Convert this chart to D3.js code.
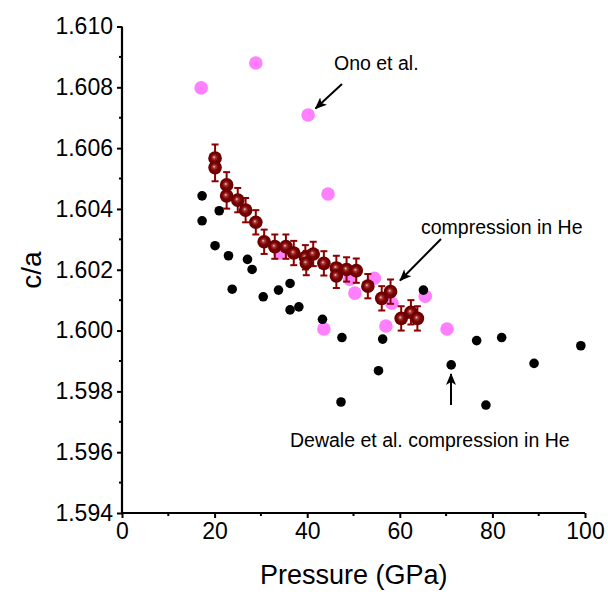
<!DOCTYPE html>
<html><head><meta charset="utf-8">
<script src="https://cdn.jsdelivr.net/npm/d3@7"></script>
<style>body{margin:0;background:#fff}svg{display:block}text{font-family:Arial,"Liberation Sans",sans-serif}</style>
</head><body><svg id="c" width="608" height="592"></svg>
<script>
// Ono et al. (pink)
const onoP = [17.1,28.9,40.2,44.5,34.1,49.2,54.5,50.3,58.3,65.5,57.0,43.6,70.2];
const onoCA = [1.60798,1.6088,1.60709,1.60449,1.60255,1.60169,1.60172,1.60123,1.6009,1.60113,1.60015,1.60005,1.60005];
// Dewaele et al. (black)
const dewP = [17.3,21.0,17.3,20.1,23.0,27.1,28.1,23.8,30.5,33.8,36.3,36.3,38.2,43.3,47.5,56.3,55.4,65.1,76.6,82.0,99.1,71.1,89.0,78.6,47.3];
const dewCA = [1.60443,1.60394,1.60361,1.60279,1.60246,1.60234,1.60201,1.60136,1.60111,1.60133,1.60155,1.60068,1.60078,1.60037,1.59977,1.59972,1.59868,1.60133,1.59967,1.59977,1.5995,1.59887,1.59892,1.59755,1.59765];
// compression in He (red, with error bars)
const heP = [20.1,20.1,22.6,22.6,25.0,26.7,28.9,30.7,33.0,35.4,37.1,39.6,39.8,41.3,43.6,46.3,46.3,48.5,50.6,53.1,56.1,58.0,60.3,62.4,63.8];
const heCA = [1.60567,1.60536,1.60479,1.60443,1.60429,1.60396,1.60356,1.60292,1.60276,1.60276,1.60255,1.60241,1.60222,1.60252,1.60221,1.60206,1.6018,1.60201,1.60197,1.60146,1.60106,1.60128,1.6004,1.6006,1.6004];
const heErr = [0.00045,0.00045,0.00042,0.00042,0.0004,0.0004,0.0004,0.0004,0.0004,0.0004,0.0004,0.0004,0.0004,0.0004,0.0004,0.0004,0.0004,0.0004,0.0004,0.0004,0.0004,0.0004,0.0004,0.0004,0.0004];
const xTicks = [0,20,40,60,80,100];
const yTicks = [1.594,1.596,1.598,1.600,1.602,1.604,1.606,1.608,1.610];

const svg = d3.select("#c");
const x = d3.scaleLinear().domain([0,100]).range([122,585]);
const y = d3.scaleLinear().domain([1.594,1.610]).range([513,26.5]);

const defs = svg.append("defs");
const g = defs.append("radialGradient").attr("id","ball").attr("cx","0.5").attr("cy","0.5").attr("r","0.5").attr("fx","0.42").attr("fy","0.42");
g.append("stop").attr("offset","0").attr("stop-color","#f0d0d0");
g.append("stop").attr("offset","0.22").attr("stop-color","#a83838");
g.append("stop").attr("offset","0.55").attr("stop-color","#7c0000");
g.append("stop").attr("offset","1").attr("stop-color","#640000");
defs.append("marker").attr("id","arr").attr("viewBox","0 0 12 10").attr("refX","11").attr("refY","5")
  .attr("markerWidth","12").attr("markerHeight","10").attr("markerUnits","userSpaceOnUse").attr("orient","auto")
  .append("path").attr("d","M0,0 L12,5 L0,10 L3,5 Z").attr("fill","#000");

// axes
const xAxis = d3.axisBottom(x).tickValues(xTicks).tickSize(5).tickPadding(5).tickFormat(d3.format("d"));
const yAxis = d3.axisLeft(y).tickValues(yTicks).tickSize(5).tickPadding(4).tickFormat(d3.format(".3f"));
const gx = svg.append("g").attr("transform","translate(0,513)").call(xAxis);
const gy = svg.append("g").attr("transform","translate(122,0)").call(yAxis);
[gx,gy].forEach(a=>{
  a.select(".domain").attr("stroke","#000").attr("stroke-width",2.2);
  a.selectAll(".tick line").attr("stroke","#000").attr("stroke-width",2);
  a.selectAll(".tick text").attr("font-size","23px").attr("fill","#000").attr("font-family","Arial, 'Liberation Sans', sans-serif");
});
gx.select(".domain").attr("d","M122,0H585");
gy.select(".domain").attr("d","M0,26.5V513");
// minor ticks
const xMinor = d3.range(10,100,20);
const yMinor = d3.range(1.595,1.6095,0.002);
svg.append("g").selectAll("line").data(xMinor).join("line")
  .attr("x1",d=>x(d)).attr("x2",d=>x(d)).attr("y1",513).attr("y2",516).attr("stroke","#000").attr("stroke-width",2);
svg.append("g").selectAll("line").data(yMinor).join("line")
  .attr("y1",d=>y(d)).attr("y2",d=>y(d)).attr("x1",122).attr("x2",119).attr("stroke","#000").attr("stroke-width",2);

// axis titles
svg.append("text").attr("x",353.7).attr("y",584).attr("text-anchor","middle").attr("font-size","27px").text("Pressure (GPa)");
svg.append("text").attr("transform","translate(41,270) rotate(-90)").attr("text-anchor","middle").attr("font-size","28px").text("c/a");

// pink
svg.append("g").selectAll("circle").data(onoP.map((p,i)=>[p,onoCA[i]])).join("circle")
  .attr("cx",d=>x(d[0])).attr("cy",d=>y(d[1])).attr("r",6.8).attr("fill","#ff80ff");
// black
svg.append("g").selectAll("circle").data(dewP.map((p,i)=>[p,dewCA[i]])).join("circle")
  .attr("cx",d=>x(d[0])).attr("cy",d=>y(d[1])).attr("r",4.8).attr("fill","#000");
// red with error bars
const red = heP.map((p,i)=>[p,heCA[i],heErr[i]]);
const eb = svg.append("g").attr("stroke","#8b0000").attr("stroke-width",2);
red.forEach(d=>{
  const cx=x(d[0]), y1=y(d[1]+d[2]), y2=y(d[1]-d[2]);
  eb.append("line").attr("x1",cx).attr("x2",cx).attr("y1",y1).attr("y2",y2);
  eb.append("line").attr("x1",cx-3.5).attr("x2",cx+3.5).attr("y1",y1).attr("y2",y1);
  eb.append("line").attr("x1",cx-3.5).attr("x2",cx+3.5).attr("y1",y2).attr("y2",y2);
});
svg.append("g").selectAll("circle").data(red).join("circle")
  .attr("cx",d=>x(d[0])).attr("cy",d=>y(d[1])).attr("r",6.8).attr("fill","url(#ball)");

// annotations
const ann = svg.append("g").attr("font-size","19.5px").attr("fill","#000");
ann.append("text").attr("x",334).attr("y",70).text("Ono et al.");
ann.append("text").attr("x",421).attr("y",234).text("compression in He");
ann.append("text").attr("x",290).attr("y",447).text("Dewale et al. compression in He");
const arrows = [[342,84,315.5,108.5],[441,239,400,280.5],[451,405,451,374]];
svg.append("g").selectAll("line").data(arrows).join("line")
  .attr("x1",d=>d[0]).attr("y1",d=>d[1]).attr("x2",d=>d[2]).attr("y2",d=>d[3])
  .attr("stroke","#000").attr("stroke-width",2).attr("marker-end","url(#arr)");
</script></body></html>
